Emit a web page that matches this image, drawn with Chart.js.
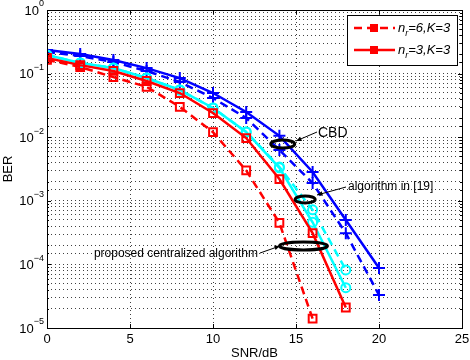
<!DOCTYPE html>
<html><head><meta charset="utf-8">
<script src="https://cdn.jsdelivr.net/npm/chart.js@4.4.1/dist/chart.umd.min.js"></script>
<style>html,body{margin:0;padding:0;background:#fff}#wrap{width:470px;height:360px}</style>
</head><body><div id="wrap"><canvas id="c" width="470" height="360"></canvas></div>
<script>
// ---- data ----
const snr = [0,2,4,6,8,10,12,14,16,18,20];
const cbdSolid   = [0.235,0.203,0.164,0.122,0.085,0.0495,0.0249,0.0105,0.00284,0.00050,8.8e-5];
const cbdDashed  = [0.219,0.189,0.152,0.110,0.0738,0.0413,0.020,0.0063,0.0019,0.00031,3.3e-5];
const algSolid   = [0.196,0.147,0.1225,0.0853,0.0552,0.0288,0.0121,0.0033,0.00046,4.3e-5];
const algDashed  = [0.196,0.147,0.1225,0.0853,0.0552,0.0288,0.0121,0.0034,0.00072,8.2e-5];
const propSolid  = [0.176,0.136,0.110,0.0765,0.0495,0.024,0.0097,0.0022,0.00031,2.1e-5];
const propDashed = [0.164,0.127,0.088,0.062,0.030,0.012,0.0030,0.00045,1.4e-5];
const xTicks = [0,5,10,15,20,25];
const yExps = [0,-1,-2,-3,-4,-5];
const legendLabels = [{n:'n',s:'r',t:'=6,K=3'},{n:'n',s:'r',t:'=3,K=3'}];
const notes = [
  {cx:14.2, cy:0.0078, rx:12, ry:4, label:'CBD', ax1:[296,141], ax2:[317,132], tx:318, ty:133, align:'left'},
  {cx:15.55, cy:0.00105, rx:10, ry:3.5, label:'algorithm in [19]', ax1:[317,195], ax2:[346,187], tx:348, ty:187, align:'left'},
  {cx:15.45, cy:0.000195, rx:24, ry:4, label:'proposed centralized algorithm', ax1:[280,246], ax2:[260,253], tx:258, ty:254, align:'right'}
];

const pts = (xs, ys) => ys.map((v,i)=>({x:xs[i], y:v}));
const FONT = '"Liberation Sans", Arial, Helvetica, sans-serif';

const frame = {
  id:'frame',
  afterDraw(chart){
    const {ctx, chartArea:a, scales:{x, y}} = chart;
    ctx.save();
    ctx.strokeStyle = '#000'; ctx.lineWidth = 1;
    ctx.beginPath();
    xTicks.forEach(t=>{ const px = Math.round(x.getPixelForValue(t))+0.5;
      ctx.moveTo(px,a.bottom); ctx.lineTo(px,a.bottom-4);
      ctx.moveTo(px,a.top); ctx.lineTo(px,a.top+4); });
    y.ticks.forEach(t=>{ const py = Math.round(y.getPixelForValue(t.value))+0.5;
      const lg = Math.log10(t.value); const major = Math.abs(lg-Math.round(lg))<1e-9;
      const L = major?4:2;
      ctx.moveTo(a.left,py); ctx.lineTo(a.left+L,py);
      ctx.moveTo(a.right,py); ctx.lineTo(a.right-L,py); });
    ctx.stroke();
    ctx.strokeRect(Math.round(a.left)+0.5, Math.round(a.top)+0.5, Math.round(a.right-a.left), Math.round(a.bottom-a.top));
    ctx.fillStyle = '#000';
    ctx.font = '13px '+FONT; ctx.textAlign='center'; ctx.textBaseline='middle';
    xTicks.forEach(t=> ctx.fillText(String(t), x.getPixelForValue(t), 339));
    yExps.forEach(e=>{
      const py = y.getPixelForValue(Math.pow(10,e));
      const es = String(e).replace('-','\u2212');
      ctx.font = '9px '+FONT; const ew = ctx.measureText(es).width;
      ctx.textAlign='right'; ctx.textBaseline='middle';
      ctx.fillText(es, 44, py-6);
      ctx.font = '13px '+FONT;
      ctx.fillText('10', 44-ew, py+1);
    });
    ctx.font = '13px '+FONT; ctx.textAlign='center'; ctx.textBaseline='middle';
    ctx.fillText('SNR/dB', (a.left+a.right)/2, 353);
    ctx.save(); ctx.translate(8,(a.top+a.bottom)/2); ctx.rotate(-Math.PI/2);
    ctx.fillText('BER',0,0); ctx.restore();
    notes.forEach(n=>{
      const cx = x.getPixelForValue(n.cx), cy = y.getPixelForValue(n.cy);
      ctx.lineWidth = 3; ctx.strokeStyle='#000';
      ctx.beginPath(); ctx.ellipse(cx,cy,n.rx,n.ry,0,0,Math.PI*2); ctx.stroke();
      ctx.lineWidth = 1;
      ctx.beginPath(); ctx.moveTo(n.ax2[0],n.ax2[1]); ctx.lineTo(n.ax1[0],n.ax1[1]); ctx.stroke();
      const ang = Math.atan2(n.ax1[1]-n.ax2[1], n.ax1[0]-n.ax2[0]);
      ctx.beginPath(); ctx.moveTo(n.ax1[0],n.ax1[1]);
      ctx.lineTo(n.ax1[0]-6*Math.cos(ang-0.4), n.ax1[1]-6*Math.sin(ang-0.4));
      ctx.lineTo(n.ax1[0]-6*Math.cos(ang+0.4), n.ax1[1]-6*Math.sin(ang+0.4));
      ctx.closePath(); ctx.fillStyle='#000'; ctx.fill();
      ctx.font = (n.label==='CBD'?'14px ':'12px ')+FONT; ctx.textAlign=n.align; ctx.textBaseline='middle';
      ctx.fillText(n.label, n.tx, n.ty);
    });
    const lx=347, ly=15, lw=110, lh=50;
    ctx.fillStyle='#fff'; ctx.fillRect(lx,ly,lw,lh);
    ctx.lineWidth=1; ctx.strokeStyle='#000'; ctx.strokeRect(lx+0.5,ly+0.5,lw,lh);
    [[8,5],[]].forEach((dash,i)=>{
      const yy = ly+13+i*22;
      ctx.strokeStyle='#ff0000'; ctx.lineWidth=2.5; ctx.setLineDash(dash);
      ctx.beginPath(); ctx.moveTo(354,yy); ctx.lineTo(395,yy); ctx.stroke(); ctx.setLineDash([]);
      ctx.fillStyle='#ff0000'; ctx.fillRect(370,yy-4,8,8);
      ctx.fillStyle='#000'; ctx.textAlign='left'; ctx.textBaseline='middle';
      ctx.font='italic 13px '+FONT; ctx.fillText(legendLabels[i].n,398,yy);
      const w1 = ctx.measureText(legendLabels[i].n).width;
      ctx.font='italic 9px '+FONT; ctx.fillText(legendLabels[i].s,398+w1,yy+5);
      const w2 = ctx.measureText(legendLabels[i].s).width;
      ctx.font='italic 13px '+FONT; ctx.fillText(legendLabels[i].t,398+w1+w2,yy);
    });
    ctx.restore();
  }
};

const ds = (label, data, color, dash, style, r, bw, order) => ({
  label, data, borderColor:color, backgroundColor:'rgba(0,0,0,0)', borderWidth:bw,
  borderDash:dash, pointStyle:style, pointRadius:r, pointBorderWidth:2,
  pointBorderColor:color, pointBackgroundColor:'rgba(0,0,0,0)', tension:0, order
});

new Chart(document.getElementById('c'), {
  type:'line',
  data:{ datasets:[
    ds('prop dashed', pts(snr,propDashed), '#ff0000', [8,5], 'rect', 5.5, 2.5, 1),
    ds('prop solid', pts(snr,propSolid), '#ff0000', [], 'rect', 5.5, 2.5, 2),
    ds('alg dashed', pts(snr,algDashed), '#00ffff', [8,5], 'circle', 4.5, 2.5, 3),
    ds('alg solid', pts(snr,algSolid), '#00ffff', [], 'circle', 4.5, 2.5, 4),
    ds('cbd dashed', pts(snr,cbdDashed), '#0000ff', [8,5], 'cross', 6, 2.5, 5),
    ds('cbd solid', pts(snr,cbdSolid), '#0000ff', [], 'cross', 6, 2.5, 6)
  ]},
  options:{
    responsive:false, animation:false, devicePixelRatio:1,
    layout:{padding:{left:47,right:7,top:10,bottom:32}},
    plugins:{legend:{display:false}, tooltip:{enabled:false}},
    scales:{
      x:{type:'linear', min:0, max:25, ticks:{display:false, stepSize:5},
         grid:{color:'rgba(0,0,0,0.75)', drawTicks:false}, border:{display:false, dash:[1,3]},
         afterFit(s){s.height=0;}},
      y:{type:'logarithmic', min:1e-5, max:1, ticks:{display:false},
         grid:{color:'rgba(0,0,0,0.75)', drawTicks:false}, border:{display:false, dash:[1,3]},
         afterFit(s){s.width=0;}}
    }
  },
  plugins:[frame]
});
</script></body></html>
